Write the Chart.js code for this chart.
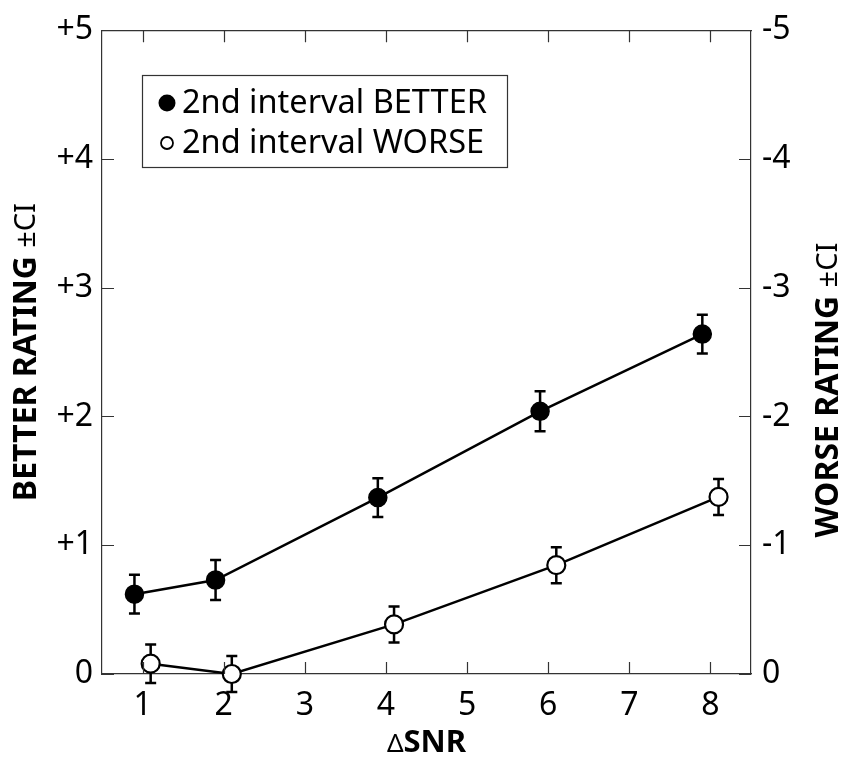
<!DOCTYPE html>
<html>
<head>
<meta charset="utf-8">
<script src="https://cdn.jsdelivr.net/npm/chart.js@4.4.0/dist/chart.umd.min.js"></script>
<style>
  html, body { margin: 0; padding: 0; background: #fff; }
  canvas { display: block; }
</style>
</head>
<body>
<canvas id="ratingChart" width="845" height="758"></canvas>
<script>
// data
const snr = [1, 2, 4, 6, 8];
const betterRating = [0.62, 0.73, 1.37, 2.04, 2.64];
const betterCI = [0.15, 0.155, 0.15, 0.155, 0.15];
const worseRating = [0.08, 0.0, 0.385, 0.845, 1.375];
const worseCI = [0.15, 0.14, 0.14, 0.14, 0.14];

const xTicks = [1, 2, 3, 4, 5, 6, 7, 8];
const yTicks = [0, 1, 2, 3, 4, 5];
const leftLabels = ['0', '+1', '+2', '+3', '+4', '+5'];
const rightLabels = ['0', '-1', '-2', '-3', '-4', '-5'];

const seriesNames = ['2nd interval BETTER', '2nd interval WORSE'];

const FONT = '"Noto Sans", sans-serif';
const dodge = 0.1;

function toPoints(values, ci, shift) {
    return snr.map((x, i) => ({ x: x + shift, y: values[i], ci: ci[i] }));
}

// error bars under the markers
const errorBars = {
    id: 'errorBars',
    beforeDatasetsDraw(chart) {
        const ctx = chart.ctx;
        const xs = chart.scales.x, ys = chart.scales.y;
        ctx.save();
        ctx.strokeStyle = '#000';
        ctx.lineWidth = 2.5;
        chart.data.datasets.forEach(ds => {
            ds.data.forEach(p => {
                const px = xs.getPixelForValue(p.x);
                const top = ys.getPixelForValue(p.y + p.ci);
                const bot = ys.getPixelForValue(p.y - p.ci);
                ctx.beginPath();
                ctx.moveTo(px, top); ctx.lineTo(px, bot);
                ctx.moveTo(px - 5.5, top); ctx.lineTo(px + 5.5, top);
                ctx.moveTo(px - 5.5, bot); ctx.lineTo(px + 5.5, bot);
                ctx.stroke();
            });
        });
        ctx.restore();
    }
};

// inward ticks, titles and the boxed legend
const decorations = {
    id: 'decorations',
    afterDraw(chart) {
        const ctx = chart.ctx;
        const a = chart.chartArea;
        const len = 12;
        ctx.save();
        ctx.strokeStyle = '#333';
        ctx.lineWidth = 1.2;
        ctx.beginPath();
        xTicks.forEach(v => {
            const px = Math.round(chart.scales.x.getPixelForValue(v)) + 0.5;
            ctx.moveTo(px, a.bottom); ctx.lineTo(px, a.bottom - len);
            ctx.moveTo(px, a.top); ctx.lineTo(px, a.top + len);
        });
        yTicks.forEach(v => {
            const py = Math.round(chart.scales.y.getPixelForValue(v)) + 0.5;
            ctx.moveTo(a.left, py); ctx.lineTo(a.left + len, py);
            ctx.moveTo(a.right, py); ctx.lineTo(a.right - len, py);
        });
        ctx.stroke();

        // axis titles: bold name + plain ±CI
        ctx.fillStyle = '#000';
        ctx.textBaseline = 'middle';
        function sideTitle(cx, cy, bold, plain) {
            ctx.save();
            ctx.translate(cx, cy);
            ctx.rotate(-Math.PI / 2);
            ctx.font = 'bold 32px ' + FONT;
            const wb = ctx.measureText(bold).width;
            ctx.font = '29px ' + FONT;
            const wp = ctx.measureText(plain).width;
            const x0 = -(wb + wp) / 2;
            ctx.textAlign = 'left';
            ctx.font = 'bold 32px ' + FONT;
            ctx.fillText(bold, x0, 0);
            ctx.font = '29px ' + FONT;
            ctx.fillText(plain, x0 + wb, 0);
            ctx.restore();
        }
        const midY = (a.top + a.bottom) / 2;
        sideTitle(27, midY, 'BETTER RATING ', '\u00B1CI');
        sideTitle(829, midY + 38, 'WORSE RATING ', '\u00B1CI');

        // x title
        ctx.font = '26px ' + FONT;
        const wd = ctx.measureText('\u0394').width;
        ctx.font = 'bold 31px ' + FONT;
        const ws = ctx.measureText('SNR').width;
        const xc = (a.left + a.right) / 2;
        const x0 = xc - (wd + ws) / 2;
        ctx.textAlign = 'left';
        ctx.textBaseline = 'alphabetic';
        ctx.font = '26px ' + FONT;
        ctx.fillText('\u0394', x0, 752);
        ctx.font = 'bold 31px ' + FONT;
        ctx.fillText('SNR', x0 + wd, 752);

        // legend
        ctx.fillStyle = '#fff';
        ctx.fillRect(142, 75, 366, 93);
        ctx.strokeStyle = '#333';
        ctx.lineWidth = 1.2;
        ctx.strokeRect(142.5, 75.5, 365, 92);
        ctx.textBaseline = 'middle';
        ctx.font = '32.5px ' + FONT;
        chart.data.datasets.forEach((ds, i) => {
            const cy = 103 + i * 40;
            ctx.beginPath();
            if (i === 0) {
                ctx.arc(167, cy, 8.5, 0, Math.PI * 2);
                ctx.fillStyle = '#000';
                ctx.fill();
            } else {
                ctx.arc(167, cy, 6, 0, Math.PI * 2);
                ctx.fillStyle = '#fff';
                ctx.fill();
                ctx.lineWidth = 1.8;
                ctx.strokeStyle = '#000';
                ctx.stroke();
            }
            ctx.fillStyle = '#000';
            ctx.fillText(ds.label, 182, cy + 1);
        });
        ctx.restore();
    }
};

const tickFont = { family: FONT, size: 32 };
const axisBorder = { display: true, color: '#333', width: 1.2 };
const noGrid = { display: true, drawOnChartArea: false, drawTicks: false };

new Chart(document.getElementById('ratingChart'), {
    type: 'line',
    data: {
        datasets: [
            {
                label: seriesNames[0],
                data: toPoints(betterRating, betterCI, -dodge),
                borderColor: '#000',
                borderWidth: 2.5,
                backgroundColor: '#000',
                pointBackgroundColor: '#000',
                pointBorderColor: '#000',
                pointBorderWidth: 1.5,
                pointRadius: 9,
                tension: 0,
                clip: false
            },
            {
                label: seriesNames[1],
                data: toPoints(worseRating, worseCI, dodge),
                borderColor: '#000',
                borderWidth: 2.5,
                backgroundColor: '#fff',
                pointBackgroundColor: '#fff',
                pointBorderColor: '#000',
                pointBorderWidth: 2.2,
                pointRadius: 9,
                tension: 0,
                clip: false
            }
        ]
    },
    options: {
        responsive: false,
        animation: false,
        layout: { padding: 0 },
        plugins: {
            legend: { display: false },
            tooltip: { enabled: false }
        },
        scales: {
            x: {
                type: 'linear',
                position: 'bottom',
                min: 0.5,
                max: 8.5,
                afterBuildTicks: s => { s.ticks = xTicks.map(v => ({ value: v })); },
                afterFit: s => { s.height = 84; },
                grid: noGrid,
                border: axisBorder,
                ticks: { font: tickFont, color: '#000', padding: 13, maxRotation: 0 }
            },
            xTop: {
                type: 'linear',
                position: 'top',
                min: 0.5,
                max: 8.5,
                afterFit: s => { s.height = 24; },
                grid: noGrid,
                border: axisBorder,
                ticks: { display: false }
            },
            y: {
                type: 'linear',
                position: 'left',
                min: 0,
                max: 5,
                afterBuildTicks: s => { s.ticks = yTicks.map(v => ({ value: v })); },
                afterFit: s => { s.width = 102; },
                grid: noGrid,
                border: axisBorder,
                ticks: {
                    font: tickFont, color: '#000', padding: 9,
                    callback: v => leftLabels[yTicks.indexOf(v)]
                }
            },
            yRight: {
                type: 'linear',
                position: 'right',
                min: 0,
                max: 5,
                afterBuildTicks: s => { s.ticks = yTicks.map(v => ({ value: v })); },
                afterFit: s => { s.width = 94; },
                grid: noGrid,
                border: axisBorder,
                ticks: {
                    font: tickFont, color: '#000', padding: 11,
                    callback: v => rightLabels[yTicks.indexOf(v)]
                }
            }
        }
    },
    plugins: [errorBars, decorations]
});
</script>
</body>
</html>
